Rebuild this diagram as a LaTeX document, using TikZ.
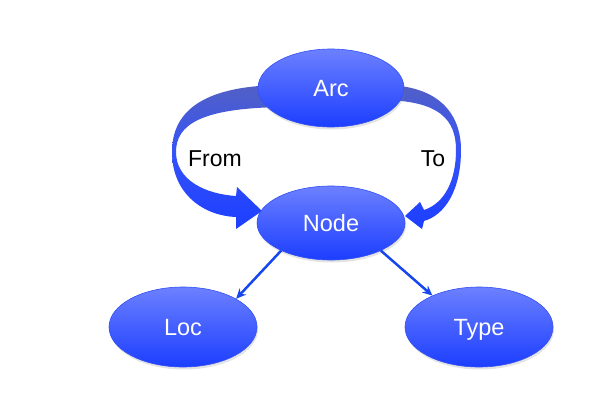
\documentclass[tikz,border=0pt]{standalone}
\usepackage{fontspec}
\setmainfont{Liberation Sans}
\usetikzlibrary{shapes.geometric,arrows.meta,shadows}
\definecolor{bubtop}{RGB}{108,128,255}
\definecolor{bubbot}{RGB}{28,62,255}
\definecolor{bubedge}{RGB}{50,80,245}
\definecolor{arrtop}{RGB}{82,96,196}
\definecolor{arrmid}{RGB}{52,82,250}
\definecolor{arrbot}{RGB}{28,62,255}
\definecolor{linkcol}{RGB}{22,70,238}
\tikzset{
  bub/.style={ellipse, draw=bubedge, line width=0.6pt, top color=bubtop, bottom color=bubbot,
    minimum width=148pt, minimum height=78pt, inner sep=0pt, text=white,
    font=\fontsize{23.5}{27}\selectfont, text height=16.5pt, text depth=0pt,
    drop shadow={opacity=0.22, shadow xshift=1pt, shadow yshift=-2.5pt}},
  bigarrow/.style={top color=arrtop, bottom color=arrbot, middle color=arrmid, draw=none},
  link/.style={draw=linkcol, line width=2.5pt, -{Stealth[length=10pt,width=9pt]}},
  lbl/.style={text=black, font=\fontsize{23}{27}\selectfont, text height=16.5pt, text depth=0pt, inner sep=0pt}
}
\begin{document}
\begin{tikzpicture}[x=1pt,y=-1pt]
\useasboundingbox (0,0) rectangle (605,410);
% big curved arrows (drawn first, partly hidden under the ellipses)
\path[bigarrow] (290,85) .. controls (205,84) and (172,110) .. (172,152)
  .. controls (172,195) and (205,216) .. (236,217) -- (236,229) -- (262,211) -- (237,187) -- (236,196)
  .. controls (205,194) and (176,180) .. (176,152)
  .. controls (176,125) and (200,107) .. (290,107) -- cycle;
\path[bigarrow] (380,85) .. controls (440,84) and (461,115) .. (461,150)
  .. controls (461,190) and (445,215) .. (424,221) -- (422,229) -- (405,216) -- (420,202) -- (424,210)
  .. controls (445,203) and (456,180) .. (456,150)
  .. controls (456,120) and (440,100) .. (380,100) -- cycle;
% ellipses
\node[bub, minimum width=146pt, minimum height=78pt] (arc) at (331,88) {Arc};
\node[bub, minimum width=148pt, minimum height=74pt] (node) at (331,223) {Node};
\node[bub, minimum width=148pt, minimum height=80pt] (loc) at (183,327) {Loc};
\node[bub, minimum width=148pt, minimum height=80pt] (type) at (479,327) {Type};
% labels
\node[lbl] (from) at (215,158) {From};
\node[lbl] (to) at (433,158) {To};
% thin arrows
\draw[link] (node.209) -- (loc.28);
\draw[link] (node.331) -- (type.146);
\end{tikzpicture}
\end{document}
